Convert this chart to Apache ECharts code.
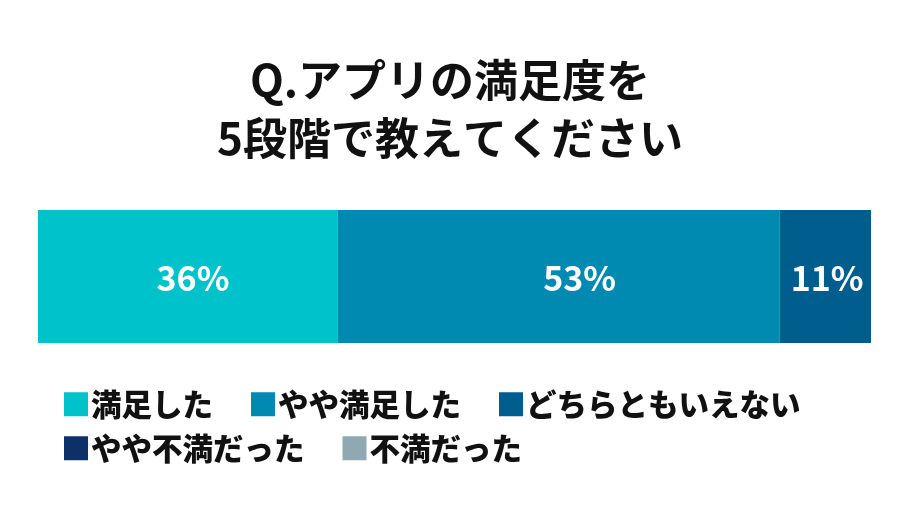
<!DOCTYPE html>
<html>
<head>
<meta charset="utf-8">
<script src="https://cdn.jsdelivr.net/npm/echarts@6/dist/echarts.min.js"></script>
<style>
  html, body { margin: 0; padding: 0; background: #fff; }
  #chart { width: 900px; height: 521px; }
</style>
</head>
<body>
<div id="chart"></div>
<script>
var answers = ['満足した', 'やや満足した', 'どちらともいえない', 'やや不満だった', '不満だった'];
var percents = [36, 53, 11, 0, 0];
var titleText = 'Q.アプリの満足度を\n5段階で教えてください';

var colors = ['#00C2CB', '#0089B1', '#005E8F', '#0E3069', '#90A8B1'];
// labels in the original are not quite centred in their segments
var labelShift = [[5, 2], [21, 2], [2, 2], [0, 0], [0, 0]];

var chartDom = document.getElementById('chart');
var myChart = echarts.init(chartDom);
var font = '"Noto Sans CJK JP", "Noto Sans", sans-serif';

var series = answers.map(function (name, i) {
  return {
    name: name,
    type: 'bar',
    stack: 'total',
    barWidth: '100%',
    itemStyle: { color: colors[i] },
    label: {
      show: percents[i] > 0,
      position: 'inside',
      offset: labelShift[i],
      formatter: '{c}%',
      color: '#fff',
      fontFamily: font,
      fontWeight: 'bold',
      fontSize: 34
    },
    data: [percents[i]]
  };
});

var legendText = { fontFamily: font, fontWeight: 900, fontSize: 30.5, color: '#111', padding: [0, 0, 0, -2] };

var option = {
  animation: false,
  color: colors,
  title: {
    text: titleText,
    left: 'center',
    top: 46,
    textStyle: {
      fontFamily: font,
      fontWeight: 'bold',
      fontSize: 44,
      lineHeight: 58,
      color: '#111'
    }
  },
  legend: [
    {
      data: answers.slice(0, 3),
      left: 59,
      top: 384,
      icon: 'rect',
      itemWidth: 24,
      itemHeight: 24,
      itemGap: 38,
      textStyle: legendText
    },
    {
      data: answers.slice(3),
      left: 59,
      top: 428,
      icon: 'rect',
      itemWidth: 24,
      itemHeight: 24,
      itemGap: 38,
      textStyle: legendText
    }
  ],
  grid: { left: 38, right: 29, top: 210, height: 133 },
  xAxis: { type: 'value', min: 0, max: 100, show: false },
  yAxis: { type: 'category', data: ['満足度'], show: false },
  series: series
};

option && myChart.setOption(option);
</script>
</body>
</html>
